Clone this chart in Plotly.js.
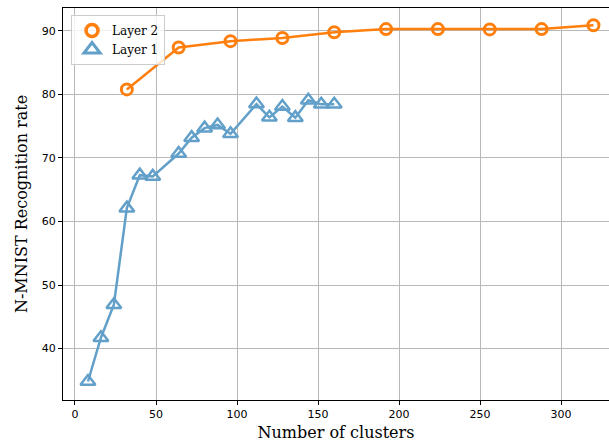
<!DOCTYPE html>
<html>
<head>
<meta charset="utf-8">
<script src="https://cdn.plot.ly/plotly-3.0.1.min.js"></script>
<style>html,body{margin:0;padding:0;background:#fff;}#chart{width:609px;height:447px;}</style>
</head>
<body>
<div id="chart"></div>
<script>
const layer2X = [32, 64, 96, 128, 160, 192, 224, 256, 288, 320];
const layer2Y = [80.8, 87.4, 88.4, 88.9, 89.8, 90.3, 90.3, 90.25, 90.3, 90.9];
const layer1X = [8, 16, 24, 32, 40, 48, 64, 72, 80, 88, 96, 112, 120, 128, 136, 144, 152, 160];
const layer1Y = [34.8, 41.7, 46.9, 62.1, 67.3, 67.1, 70.7, 73.2, 74.7, 75.2, 73.8, 78.5, 76.4, 78.1, 76.35, 79.1, 78.45, 78.45];
const xTicks = [0, 50, 100, 150, 200, 250, 300];
const yTicks = [40, 50, 60, 70, 80, 90];

const orange = '#ff7f0e';
const blue = '#62a0ca';
const serif = 'DejaVu Serif, Liberation Serif, serif';
const sans = 'DejaVu Sans, sans-serif';

const m2 = {symbol: 'circle-open', size: 11, color: orange, line: {width: 3, color: orange}};
const m1 = {symbol: 'triangle-up-open', size: 13, color: blue, line: {width: 2.5, color: blue}};

const traces = [
  {x: layer2X, y: layer2Y, name: 'Layer 2', mode: 'lines+markers', type: 'scatter', showlegend: false,
   line: {color: orange, width: 2.5}, marker: m2},
  {x: layer1X, y: layer1Y, name: 'Layer 1', mode: 'lines+markers', type: 'scatter', showlegend: false,
   line: {color: blue, width: 2.5}, marker: m1},
  {x: [null], y: [null], name: 'Layer 2', mode: 'markers', type: 'scatter',
   marker: {symbol: 'circle-open', size: 12, color: orange, line: {width: 3.5, color: orange}}},
  {x: [null], y: [null], name: 'Layer 1', mode: 'markers', type: 'scatter',
   marker: {symbol: 'triangle-up-open', size: 14, color: blue, line: {width: 3, color: blue}}}
];

const layout = {
  width: 609, height: 447,
  margin: {l: 63, r: 0, t: 8, b: 47},
  paper_bgcolor: '#fff', plot_bgcolor: '#fff',
  showlegend: true,
  legend: {x: 0.0147, y: 0.982, xanchor: 'left', yanchor: 'top',
    bgcolor: 'rgba(255,255,255,0.8)', bordercolor: '#cccccc', borderwidth: 1,
    font: {family: serif, size: 12, color: '#000'}, tracegroupgap: 0, itemwidth: 30},
  xaxis: {range: [-7.4, 329.6], tickvals: xTicks, ticktext: xTicks.map(String),
    showgrid: true, gridcolor: '#b8b8b8', gridwidth: 1, zeroline: false,
    showline: true, linecolor: '#000', linewidth: 1, mirror: true,
    ticks: 'outside', ticklen: 4, tickcolor: '#000',
    tickfont: {family: sans, size: 11, color: '#000'},
    title: {text: 'Number of clusters', font: {family: serif, size: 16, color: '#000'}, standoff: 6}},
  yaxis: {range: [31.89, 93.62], tickvals: yTicks, ticktext: yTicks.map(String),
    showgrid: true, gridcolor: '#b8b8b8', gridwidth: 1, zeroline: false,
    showline: true, linecolor: '#000', linewidth: 1, mirror: false,
    ticks: 'outside', ticklen: 4, tickcolor: '#000',
    tickfont: {family: sans, size: 11, color: '#000'},
    title: {text: 'N-MNIST Recognition rate', font: {family: serif, size: 16, color: '#000'}, standoff: 10}}
};

Plotly.newPlot('chart', traces, layout, {displayModeBar: false, staticPlot: true});
</script>
</body>
</html>
